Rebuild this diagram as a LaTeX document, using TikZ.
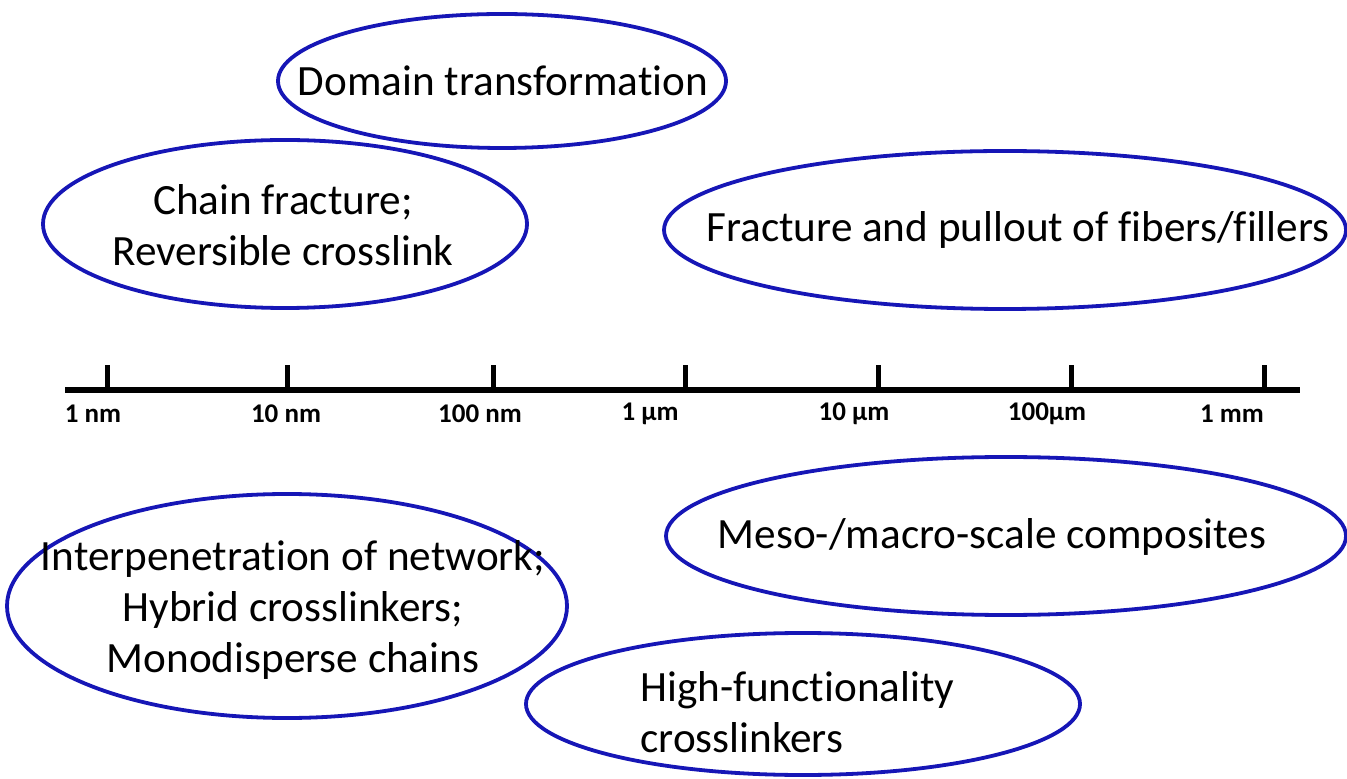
\documentclass[tikz,border=0pt]{standalone}
\usepackage{fontspec}
\setmainfont[Ligatures=NoCommon]{Carlito}
\usepackage{tikz}
\definecolor{bubbleblue}{RGB}{22,22,182}

\begin{document}
\begin{tikzpicture}[x=0.5pt,y=-0.5pt,
  bubble/.style={draw=bubbleblue, line width=1.9pt},
  bubbletext/.style={font=\fontsize{21.6}{25.5}\selectfont, align=center, inner sep=0pt},
  scalelabel/.style={font=\fontsize{13.5}{15}\selectfont\bfseries, inner sep=0pt},
  axisline/.style={line width=2.8pt},
  tickline/.style={line width=2.5pt}]
\useasboundingbox (0,0) rectangle (1347,779);

% length axis
\draw[axisline] (65,390) -- (1300,390);
\draw[tickline] (107,391) -- (107,365);
\draw[tickline] (287,391) -- (287,365);
\draw[tickline] (493,391) -- (493,365);
\draw[tickline] (685,391) -- (685,365);
\draw[tickline] (878,391) -- (878,365);
\draw[tickline] (1071,391) -- (1071,365);
\draw[tickline] (1264,391) -- (1264,365);
\node[scalelabel] (nm1) at (93,414) {1 nm};
\node[scalelabel] (nm10) at (286,414) {10 nm};
\node[scalelabel] (nm100) at (480,414) {100 nm};
\node[scalelabel] (um1) at (650,414) {1 µm};
\node[scalelabel] (um10) at (854,414) {10 µm};
\node[scalelabel] (um100) at (1047,414) {100µm};
\node[scalelabel] (mm1) at (1232,414) {1 mm};

% bubbles above the axis
\coordinate (domainc) at (502,81);
\draw[bubble] (domainc) ellipse [x radius=224, y radius=67];
\node[bubbletext] (domain) at (503,81) {Domain transformation};

\coordinate (chainc) at (285,224);
\draw[bubble] (chainc) ellipse [x radius=242, y radius=84];
\node[bubbletext] (chain) at (283,225) {Chain fracture;\\Reversible crosslink};

\coordinate (fiberc) at (1005,230);
\draw[bubble] (fiberc) ellipse [x radius=341, y radius=79];
\node[bubbletext] (fiber) at (1018,230) {Fracture and pullout of fibers/fillers};

% bubbles below the axis
\coordinate (interc) at (287,606);
\draw[bubble] (interc) ellipse [x radius=280, y radius=112];
\node[bubbletext] (inter) at (293,610) {Interpenetration of network;\\Hybrid crosslinkers;\\Monodisperse chains};

\coordinate (compc) at (1006,536);
\draw[bubble] (compc) ellipse [x radius=340, y radius=79];
\node[bubbletext] (comp) at (992,537) {Meso-/macro-scale composites};

\coordinate (hifuncc) at (803,704);
\draw[bubble] (hifuncc) ellipse [x radius=277, y radius=71];
\node[bubbletext, align=left, anchor=west] (hifunc) at (640,712) {High-functionality\\crosslinkers};

\end{tikzpicture}
\end{document}
